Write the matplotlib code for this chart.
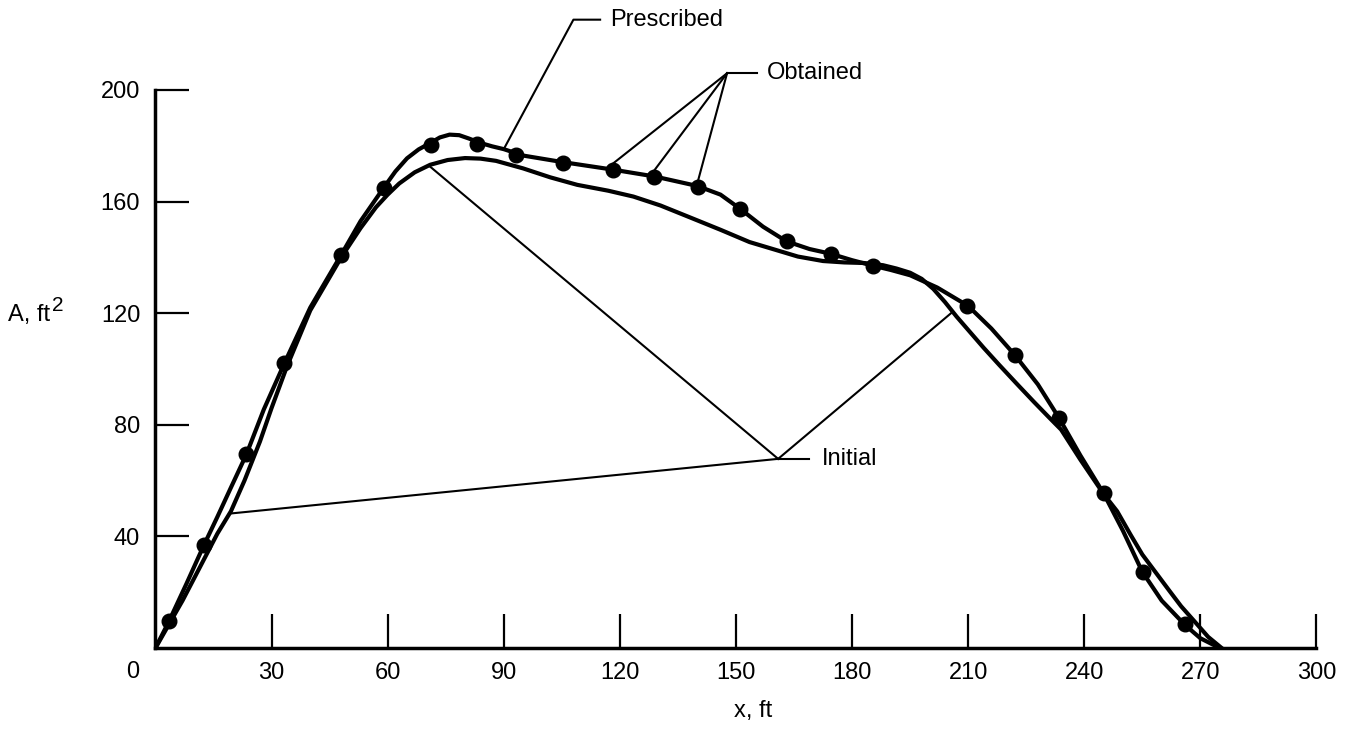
import matplotlib
matplotlib.use("Agg")
import matplotlib.pyplot as plt

plt.rcParams['font.family'] = ['Liberation Sans', 'DejaVu Sans']

# prescribed area distribution (thick line through the dots)
presc_x = [0, 3.5, 8, 12.5, 16, 19.5, 23.5, 28, 33.3, 40, 47.9, 53, 59, 62, 65,
           68, 71, 73.5, 76, 78.5, 81, 84, 87, 90, 95, 105, 118, 129, 140, 146,
           151, 157, 163, 169, 174.5, 180, 185.5, 190, 195, 202, 210, 216, 222,
           228, 233.5, 239, 245, 250, 255, 260, 266, 270, 275]
presc_y = [0, 9.6, 23, 36.8, 47, 57.5, 69.4, 85.5, 102, 122, 140.7, 153, 165,
           170.8, 175.5, 178.7, 181, 183, 184, 183.8, 182.6, 181, 179.8, 178.8,
           176.5, 174.2, 171.5, 169, 165.6, 162.5, 157.5, 151, 145.8, 143, 141.3,
           139, 137, 135.5, 133.6, 129.2, 122.6, 114.5, 105.1, 94.5, 82.4, 69,
           55.4, 42, 27.3, 17, 8.3, 3.5, 0]

# initial area distribution
init_x = [0, 3.5, 7, 10, 13, 16, 19.5, 23, 27, 30, 34, 40, 48, 53, 57, 60, 63,
          67, 71, 75.5, 80, 84, 88, 95, 102, 109, 117, 123.5, 130.5, 138, 146,
          153.5, 160, 166, 172.5, 178, 183, 188, 191.5, 195, 198, 201, 204, 207,
          210, 214, 218, 222.5, 227, 231, 234, 239, 245, 248.5, 252, 255, 258.5,
          262, 265, 268.7, 272, 275.5]
init_y = [0, 8.5, 17, 25, 33, 41, 49, 60, 74, 86, 101, 121, 140, 150.5, 158,
          162.5, 166.5, 170.5, 173.2, 174.9, 175.6, 175.4, 174.6, 171.9, 168.7,
          166, 163.9, 161.8, 158.6, 154.4, 149.9, 145.5, 142.8, 140.3, 138.7,
          138.2, 138, 137.2, 136, 134.5, 132.3, 128.7, 124, 118.8, 114, 107.6,
          101.5, 94.8, 88.2, 82.5, 78.3, 67.5, 55.2, 49, 40.5, 33.5, 27, 20.5,
          15, 9.2, 4, 0]

# obtained points
obt_x = [3.5, 12.5, 23.5, 33.3, 47.9, 59, 71.2, 83.2, 93.2, 105.2, 118.1, 128.8,
         140.3, 151, 163.1, 174.5, 185.5, 209.8, 222, 233.5, 245, 255.1, 266]
obt_y = [9.6, 36.8, 69.4, 102, 140.7, 165, 180.4, 180.8, 176.7, 173.9, 171.3,
         168.7, 165.4, 157.3, 145.8, 141.3, 136.9, 122.6, 105.1, 82.4, 55.4, 27.3,
         8.6]

xticks = [30, 60, 90, 120, 150, 180, 210, 240, 270, 300]
yticks = [40, 80, 120, 160, 200]

fs = 17

fig = plt.figure(figsize=(13.54, 7.31), dpi=100)
ax = fig.add_axes([0.1148, 0.1135, 0.8575, 0.7634])

ax.plot(init_x, init_y, color='black', lw=3, solid_joinstyle='round', zorder=3)
ax.plot(presc_x, presc_y, color='black', lw=3, solid_joinstyle='round', zorder=3)
ax.plot(obt_x, obt_y, 'o', color='black', ms=10.5, zorder=4)

ax.set_xlim(0, 300)
ax.set_ylim(0, 200)
ax.set_xticks(xticks)
ax.set_yticks(yticks)
for s in ['top', 'right']:
    ax.spines[s].set_visible(False)
for s in ['left', 'bottom']:
    ax.spines[s].set_linewidth(2.5)
ax.tick_params(direction='in', length=24.5, width=1.6, labelsize=fs)
ax.tick_params(axis='x', pad=10)
ax.tick_params(axis='y', pad=11)

ax.annotate('0', xy=(0, 0), xytext=(-12, -17), textcoords='offset points',
            ha='right', va='center', fontsize=fs)

# y label with a large raised superscript, as in the original
fig.text(8 / 1354, 1 - 321 / 731, 'A, ft', fontsize=fs, ha='left', va='baseline')
fig.text(52 / 1354, 1 - 311 / 731, '2', fontsize=15, ha='left', va='baseline')
fig.text(753 / 1354, 1 - 711 / 731, 'x, ft', fontsize=fs, ha='center', va='center')

lk = dict(color='black', lw=1.5, clip_on=False, zorder=2)

# Prescribed leader
ax.plot([90, 108, 114.9], [178.8, 225.2, 225.2], **lk)
ax.text(117.4, 225.2, 'Prescribed', fontsize=fs, va='center', ha='left')

# Obtained leaders
hub = (147.7, 206)
for xi, yi in [(118.1, 173.5), (128.8, 171), (140.3, 168)]:
    ax.plot([hub[0], xi], [hub[1], yi], **lk)
ax.plot([hub[0], 155.4], [hub[1], hub[1]], **lk)
ax.text(158, 206, 'Obtained', fontsize=fs, va='center', ha='left')

# Initial leaders
ihub = (160.9, 67.8)
for xi, yi in [(71, 172.5), (206, 120.5), (19.3, 48.2)]:
    ax.plot([ihub[0], xi], [ihub[1], yi], **lk)
ax.plot([ihub[0], 168.9], [ihub[1], ihub[1]], **lk)
ax.text(172.1, 67.8, 'Initial', fontsize=fs, va='center', ha='left')

fig.savefig('out.png', dpi=100)
